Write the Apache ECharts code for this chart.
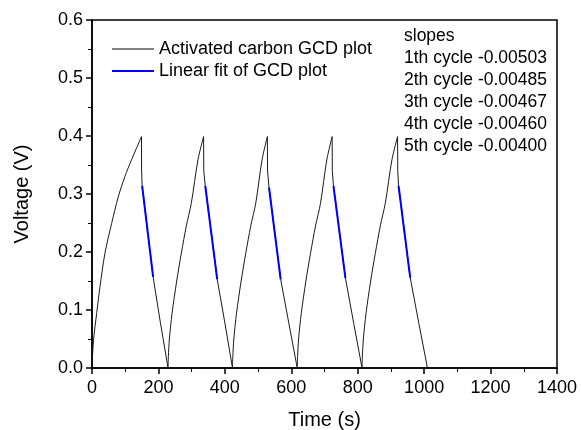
<!DOCTYPE html>
<html>
<head>
<meta charset="utf-8">
<script src="https://cdn.jsdelivr.net/npm/echarts@6/dist/echarts.min.js"></script>
<style>
html,body{margin:0;padding:0;background:#fff;}
#chart{width:581px;height:430px;}
</style>
</head>
<body>
<div id="chart"></div>
<script>
// GCD curve (time in s, voltage in V)
const gcdTime = [
  0, 1, 4.5, 14, 24, 39, 59, 79, 99, 119, 134, 149, 149.3, 151, 184, 206, 229,
  230, 233, 241, 255, 269, 284, 299, 319, 336, 336.5, 341, 377, 400, 423,
  424, 427, 435, 449, 463, 478, 493, 512, 528, 528.5, 533, 568, 593, 618,
  619, 622, 630, 644, 658, 673, 688, 707, 723, 723.5, 727, 763, 788, 813,
  814, 817, 825, 839, 853, 868, 883, 903, 920, 920.5, 923, 958, 984, 1010
];
const gcdVolt = [
  0.005, 0.014, 0.048, 0.094, 0.140, 0.198, 0.249, 0.295, 0.330, 0.359, 0.379, 0.399, 0.340, 0.314, 0.157, 0.078, 0,
  0.02, 0.05, 0.094, 0.150, 0.198, 0.245, 0.284, 0.359, 0.399, 0.340, 0.314, 0.153, 0.078, 0,
  0.02, 0.05, 0.094, 0.150, 0.198, 0.245, 0.284, 0.359, 0.399, 0.340, 0.311, 0.153, 0.076, 0,
  0.02, 0.05, 0.094, 0.150, 0.198, 0.245, 0.284, 0.359, 0.399, 0.340, 0.314, 0.155, 0.077, 0,
  0.02, 0.05, 0.094, 0.150, 0.198, 0.245, 0.284, 0.359, 0.399, 0.340, 0.314, 0.156, 0.077, 0
];
// Linear fit segments per cycle
const fitStartTime = [151, 341, 533, 727, 923];
const fitStartVolt = [0.314, 0.314, 0.311, 0.314, 0.314];
const fitEndTime = [184, 377, 568, 763, 958];
const fitEndVolt = [0.157, 0.153, 0.153, 0.155, 0.156];
// Annotation
const slopeTitle = 'slopes';
const slopeCycles = ['1th cycle', '2th cycle', '3th cycle', '4th cycle', '5th cycle'];
const slopeValues = ['-0.00503', '-0.00485', '-0.00467', '-0.00460', '-0.00400'];
// Axes
const xTicks = [0, 1400, 200];
const yTicks = [0, 0.6, 0.1];

const FONT = '"Liberation Sans", Arial, sans-serif';
const GCD_NAME = 'Activated carbon GCD plot';
const FIT_NAME = 'Linear fit of GCD plot';

// split the GCD curve into charge (rising) and discharge (falling) pieces
const pieces = [];
let cur = [[gcdTime[0], gcdVolt[0]]];
let rising = true;
for (let i = 1; i < gcdTime.length; i++) {
  const up = gcdVolt[i] >= gcdVolt[i - 1];
  if (up !== rising) {
    pieces.push({ rising, data: cur });
    cur = [[gcdTime[i - 1], gcdVolt[i - 1]]];
    rising = up;
  }
  cur.push([gcdTime[i], gcdVolt[i]]);
}
pieces.push({ rising, data: cur });

const gcdSeries = pieces.map(p => ({
  name: GCD_NAME,
  type: 'line',
  data: p.data,
  showSymbol: false,
  symbol: 'none',
  smooth: p.rising ? 0.3 : false,
  lineStyle: { color: '#1a1a1a', width: 1 },
  itemStyle: { color: '#808080' },
  z: 2
}));

const fitSeries = fitStartTime.map((t, i) => ({
  name: FIT_NAME,
  type: 'line',
  data: [[t, fitStartVolt[i]], [fitEndTime[i], fitEndVolt[i]]],
  showSymbol: false,
  symbol: 'none',
  lineStyle: { color: '#0000ff', width: 2 },
  itemStyle: { color: '#0000ff' },
  z: 3
}));

const slopeLines = [slopeTitle].concat(slopeCycles.map((c, i) => c + ' ' + slopeValues[i]));

const chart = echarts.init(document.getElementById('chart'), null, { renderer: 'canvas' });
chart.setOption({
  animation: false,
  backgroundColor: '#fff',
  grid: {
    left: 92, right: 24, top: 20, bottom: 62,
    outerBoundsMode: 'none', containLabel: false,
    show: true, borderColor: '#000', borderWidth: 1.5
  },
  legend: {
    orient: 'vertical',
    left: 107,
    top: 35,
    itemWidth: 42,
    itemHeight: 2,
    itemGap: 4,
    icon: 'rect',
    data: [
      { name: GCD_NAME, itemStyle: { color: '#808080' } },
      { name: FIT_NAME, itemStyle: { color: '#0000ff' } }
    ],
    textStyle: { fontFamily: FONT, fontSize: 18, color: '#000', lineHeight: 18 }
  },
  graphic: [{
    type: 'text',
    left: 404,
    top: 25,
    style: {
      text: slopeLines.join('\n'),
      font: '17.5px ' + FONT,
      fill: '#000',
      lineHeight: 22
    }
  }],
  xAxis: {
    type: 'value',
    min: xTicks[0], max: xTicks[1], interval: xTicks[2],
    name: 'Time (s)', nameLocation: 'middle', nameGap: 42,
    nameTextStyle: { fontFamily: FONT, fontSize: 20, color: '#000' },
    axisLine: { show: true, lineStyle: { color: '#000', width: 1.5 } },
    axisTick: { show: true, inside: false, length: 6, lineStyle: { color: '#000', width: 1.5 } },
    minorTick: { show: true, splitNumber: 2, length: 4, lineStyle: { color: '#000', width: 1 } },
    splitLine: { show: false },
    axisLabel: { fontFamily: FONT, fontSize: 18, color: '#000', margin: 11, formatter: v => String(v) }
  },
  yAxis: {
    type: 'value',
    min: yTicks[0], max: yTicks[1], interval: yTicks[2],
    name: 'Voltage (V)', nameLocation: 'middle', nameGap: 60, nameRotate: 90,
    nameTextStyle: { fontFamily: FONT, fontSize: 20, color: '#000' },
    axisLine: { show: true, lineStyle: { color: '#000', width: 1.5 } },
    axisTick: { show: true, inside: false, length: 6, lineStyle: { color: '#000', width: 1.5 } },
    minorTick: { show: true, splitNumber: 2, length: 4, lineStyle: { color: '#000', width: 1 } },
    splitLine: { show: false },
    axisLabel: { fontFamily: FONT, fontSize: 18, color: '#000', margin: 9, formatter: v => v.toFixed(1) }
  },
  series: gcdSeries.concat(fitSeries)
});
</script>
</body>
</html>
